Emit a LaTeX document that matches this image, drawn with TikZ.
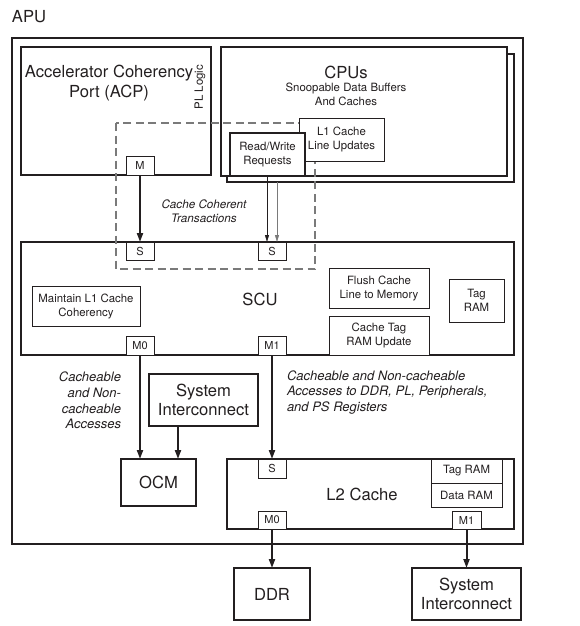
\documentclass[tikz,border=0pt]{standalone}
\usepackage{fontspec}
\setmainfont{TeX Gyre Heros}
\usetikzlibrary{arrows.meta}
\definecolor{ink}{HTML}{231F20}
\definecolor{dashgray}{HTML}{7A7A7A}
\newcommand{\bigf}{\fontsize{16.6}{19.5}\selectfont}
\newcommand{\smf}{\fontsize{11.4}{14}\selectfont}
\newcommand{\lblf}{\fontsize{11}{13}\selectfont}
\newcommand{\itf}{\fontsize{13}{15.7}\selectfont\itshape}
\newcommand{\itsf}{\fontsize{11.7}{14}\selectfont\itshape}
\begin{document}
\begin{tikzpicture}[x=1pt,y=-1pt,
  every node/.style={inner sep=0pt, outer sep=0pt, text=ink},
  bx/.style={draw=ink, line width=1.1pt, fill=white, align=center},
  sbx/.style={draw=ink, line width=1pt, fill=white, align=center, font=\smf},
  port/.style={draw=ink, line width=1pt, fill=white, font=\lblf, minimum width=28pt, minimum height=19pt},
  thick arrow/.style={draw=ink, line width=2pt, -{Triangle[length=9pt,width=6pt]}},
  thin arrow/.style={line width=0.8pt, -{Triangle[length=7pt,width=4pt]}},
  txt/.style={align=center, font=\bigf}
]
\useasboundingbox (0,0) rectangle (579,626);
% outer APU
\node[bx, fill=none, minimum width=511pt, minimum height=506pt] (apu) at (267.5,291) {};
\node[font=\bigf, anchor=west] (apulbl) at (12,17) {APU};
% ACP
\node[bx, minimum width=190pt, minimum height=128pt] (acp) at (116,111) {};
\node[txt] (acptxt) at (109,83) {Accelerator Coherency\\Port (ACP)};
\node[font=\smf, rotate=90] (pl) at (200,87) {PL Logic};
% CPUs
\node[bx, minimum width=287pt, minimum height=128pt] (cpub) at (370.5,118) {};
\node[bx, minimum width=286pt, minimum height=129pt] (cpu) at (364,111.5) {};
\node[txt] (cputxt) at (346,72) {CPUs};
\node[align=center, font=\smf] (snoop) at (346,94) {Snoopable Data Buffers\\And Caches};
% SCU
\node[bx, minimum width=493pt, minimum height=113pt] (scu) at (267.5,298.5) {};
\node[txt] (scutxt) at (260,299) {SCU};
% dashed coherent region
\draw[dashgray, line width=1.1pt, dash pattern=on 8pt off 4.5pt] (116,123) rectangle (315,269);
% L1 / RW
\node[sbx, minimum width=85pt, minimum height=43pt] (l1) at (341.5,139.5) {L1 Cache\\Line Updates};
\node[sbx, line width=1.3pt, minimum width=75pt, minimum height=43pt] (rw) at (267.5,154.5) {Read/Write\\Requests};
% ports
\node[port] (m) at (140,165.5) {M};
\node[port, minimum height=18pt] (s1) at (140,251) {S};
\node[port, minimum height=18pt] (s2) at (272,251) {S};
\node[align=center, font=\itsf] (cct) at (204,211) {Cache Coherent\\Transactions};
% SCU inner
\node[sbx, minimum width=108pt, minimum height=40pt] (maint) at (86,306) {Maintain L1 Cache\\Coherency};
\node[sbx, minimum width=100pt, minimum height=40pt] (flush) at (379,288) {Flush Cache\\Line to Memory};
\node[sbx, minimum width=100pt, minimum height=39pt] (ctag) at (379,335.5) {Cache Tag\\RAM Update};
\node[sbx, minimum width=55pt, minimum height=43pt] (tag) at (476.5,300.5) {Tag\\RAM};
\node[port] (m0) at (140,345.5) {M0};
\node[port] (m1) at (272,345.5) {M1};
% middle
\node[align=right, font=\itf, anchor=east] (cnc) at (121,400.5) {Cacheable\\and Non-\\cacheable\\Accesses};
\node[align=left, font=\itf, anchor=west] (cnc2) at (287,392.5) {Cacheable and Non-cacheable\\Accesses to DDR, PL, Peripherals,\\and PS Registers};
\node[bx, font=\bigf, minimum width=109pt, minimum height=52pt] (sys1) at (203.5,400) {System\\Interconnect};
\node[bx, font=\bigf, minimum width=75pt, minimum height=47pt] (ocm) at (158.5,482.5) {OCM};
% L2
\node[bx, minimum width=287pt, minimum height=70pt] (l2) at (370.5,494) {};
\node[txt] (l2txt) at (362,494) {L2 Cache};
\node[port] (s3) at (272,468.5) {S};
\node[sbx, minimum width=71pt, minimum height=24pt] (l2tag) at (466.5,471) {Tag RAM};
\node[sbx, minimum width=71pt, minimum height=24pt] (l2data) at (466.5,495) {Data RAM};
\node[port, minimum height=18pt] (m0b) at (272,520) {M0};
\node[port, minimum width=29pt, minimum height=18pt] (m1b) at (466.5,520) {M1};
% outside
\node[bx, font=\bigf, minimum width=76pt, minimum height=52pt] (ddr) at (272,594) {DDR};
\node[bx, font=\bigf, minimum width=109pt, minimum height=52pt] (sys2) at (466.5,594) {System\\Interconnect};
% arrows
\draw[thick arrow] (m.south) -- (s1.north);
\coordinate (rw1) at (267,176);
\coordinate (s2a) at (267,242);
\draw[thin arrow, draw=ink, fill=ink] (rw1) -- (s2a);
\coordinate (rw2) at (277,182);
\coordinate (s2b) at (277,242);
\draw[thin arrow, draw=dashgray, fill=dashgray] (rw2) -- (s2b);
\draw[thick arrow] (m0.south) -- (ocm.north -| m0.south);
\coordinate (sysout) at (178,426);
\coordinate (ocmin) at (178,459);
\draw[thick arrow] (sysout) -- (ocmin);
\draw[thick arrow] (m1.south) -- (s3.north);
\draw[thick arrow] (m0b.south) -- (ddr.north);
\draw[thick arrow] (m1b.south) -- (sys2.north);
\end{tikzpicture}
\end{document}
